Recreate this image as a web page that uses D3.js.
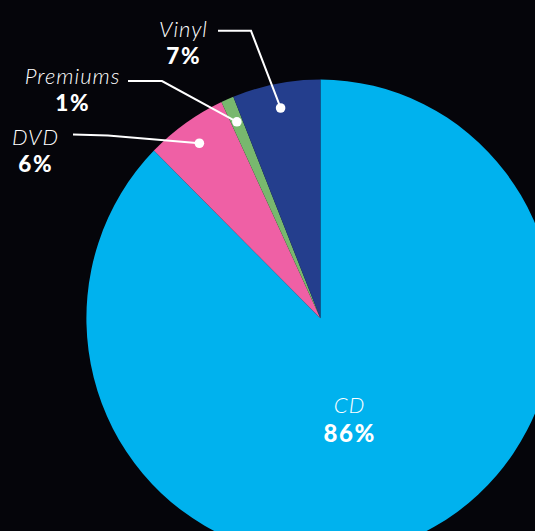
<!DOCTYPE html>
<html>
<head>
<meta charset="utf-8">
<script src="https://cdn.jsdelivr.net/npm/d3@7"></script>
<style>
html,body{margin:0;padding:0;background:#05050a;overflow:hidden;}
svg{display:block;}
</style>
</head>
<body>
<svg id="chart" width="535" height="531"></svg>
<script>
// Data
const categories = ["CD", "DVD", "Premiums", "Vinyl"];
const shares = [87.4, 5.65, 0.88, 6.07];          // slice sizes as drawn
const shareLabels = ["86%", "6%", "1%", "7%"];     // printed labels
const colors = ["#00b2ee", "#ef60a5", "#78b86e", "#243e8d"];

// Layout
const W = 535, H = 531;
const cx = 320.4, cy = 318.3, R = 234, yScale = 1.02, dotR = 210;
const labelLayout = {
  "CD":       {x: 349, nameY: 413, pctY: 442, nameSize: 22, pctSize: 24, leader: null},
  "DVD":      {x: 35,  nameY: 145, pctY: 171.5, nameSize: 22, pctSize: 22.5, leader: [[73,134.6],[108,135.6]]},
  "Premiums": {x: 72,  nameY: 83.5, pctY: 110.5, nameSize: 22, pctSize: 22.5, leader: [[128,81],[162,81]]},
  "Vinyl":    {x: 183, nameY: 37,  pctY: 64,  nameSize: 22, pctSize: 22.5, leader: [[218,30.8],[251,30.8]]}
};
const FONT = "Lato, 'Open Sans', sans-serif";

const svg = d3.select("#chart");
svg.append("rect").attr("width", W).attr("height", H).attr("fill", "#05050a");

const data = categories.map((c, i) => ({name: c, value: shares[i], label: shareLabels[i], color: colors[i]}));
const pie = d3.pie().sort(null).value(d => d.value).startAngle(0).endAngle(2 * Math.PI);
const arcs = pie(data);
const arc = d3.arc().innerRadius(0).outerRadius(R);
const dotArc = d3.arc().innerRadius(dotR).outerRadius(dotR);

const g = svg.append("g").attr("transform", `translate(${cx},${cy}) scale(1,${yScale})`);
g.selectAll("path.slice").data(arcs).join("path")
  .attr("class", "slice")
  .attr("d", arc)
  .attr("fill", d => d.data.color);

// leaders and dots
arcs.forEach(a => {
  const L = labelLayout[a.data.name];
  if (!L.leader) return;
  const c = dotArc.centroid(a);
  const dot = [cx + c[0], cy + c[1] * yScale];
  const pts = L.leader.concat([dot]);
  svg.append("path")
    .attr("d", d3.line()(pts))
    .attr("fill", "none")
    .attr("stroke", "#ffffff")
    .attr("stroke-width", 2);
  svg.append("circle")
    .attr("cx", dot[0]).attr("cy", dot[1]).attr("r", 4.8)
    .attr("fill", "#ffffff");
});

// labels
arcs.forEach(a => {
  const L = labelLayout[a.data.name];
  svg.append("text")
    .attr("x", L.x + 0.5).attr("y", L.nameY)
    .attr("text-anchor", "middle")
    .attr("fill", "#ffffff")
    .style("font-family", FONT)
    .style("font-weight", 300)
    .style("font-style", "italic")
    .style("font-size", L.nameSize + "px")
    .style("letter-spacing", "1px")
    .text(a.data.name);
  svg.append("text")
    .attr("x", L.x + 0.8).attr("y", L.pctY)
    .attr("text-anchor", "middle")
    .attr("fill", "#ffffff")
    .style("font-family", FONT)
    .style("font-weight", 900)
    .style("font-size", L.pctSize + "px")
    .style("letter-spacing", "1.6px")
    .text(a.data.label);
});
</script>
</body>
</html>
